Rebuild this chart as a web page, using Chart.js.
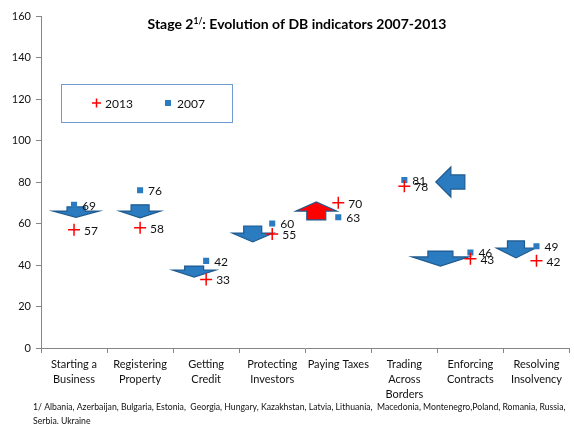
<html>

<head>
    <title>Stage 2 DB indicators</title>
    <script src="https://cdn.jsdelivr.net/npm/chart.js"></script>
    <style>
        body { margin: 0; overflow: hidden; background: #fff; }
    </style>
</head>

<body>
    <canvas id="myChart" width="577" height="424"></canvas>

    <script>
        // data
        const categories = [
            ['Starting a', 'Business'],
            ['Registering', 'Property'],
            ['Getting', 'Credit'],
            ['Protecting', 'Investors'],
            ['Paying Taxes'],
            ['Trading', 'Across', 'Borders'],
            ['Enforcing', 'Contracts'],
            ['Resolving', 'Insolvency']
        ];
        const values2013 = [57, 58, 33, 55, 70, 78, 43, 42];
        const values2007 = [69, 76, 42, 60, 63, 81, 46, 49];
        const yMin = 0, yMax = 160, yStep = 20;

        const FONT = 'Lato, "Open Sans", sans-serif';
        const BLUE = '#2b7bc0';
        const DARK = '#1f5a8e';

        // decorative arrows: dx in px from category centre, y parts in data units
        // dir: 'down' | 'up' | 'left'
        const arrows = [
            { cat: 0, dir: 'down', dx: 2, body: 9, head: 23, top: 68, base: 66, tip: 63, fill: BLUE },
            { cat: 1, dir: 'down', dx: 0, body: 9, head: 20.5, top: 69, base: 66, tip: 62.7, fill: BLUE },
            { cat: 2, dir: 'down', dx: -12, body: 9.5, head: 21.5, top: 39.5, base: 37.6, tip: 34.2, fill: BLUE },
            { cat: 3, dir: 'down', dx: -19.5, body: 9, head: 20.5, top: 58.8, base: 55.4, tip: 51.1, fill: BLUE },
            { cat: 4, dir: 'up', dx: -22, body: 9.5, head: 20.5, top: 61.7, base: 66, tip: 70.4, fill: '#ff0000' },
            { cat: 5, dir: 'left', tipX: 31.5, baseX: 46.5, endX: 60.5, mid: 80, body: 3.4, head: 7.2, fill: BLUE },
            { cat: 6, dir: 'down', dx: -30, body: 12.5, head: 28.5, top: 46.7, base: 43.9, tip: 39.5, fill: BLUE },
            { cat: 7, dir: 'down', dx: -20.5, body: 8.5, head: 19.5, top: 51.6, base: 48.2, tip: 43.4, fill: BLUE }
        ];

        const arrowPlugin = {
            id: 'arrows',
            beforeDatasetsDraw(chart) {
                const ctx = chart.ctx;
                const xs = chart.scales.x, ys = chart.scales.y;
                ctx.save();
                ctx.lineWidth = 1.2;
                ctx.strokeStyle = DARK;
                arrows.forEach(a => {
                    const cx = xs.getPixelForValue(a.cat);
                    ctx.beginPath();
                    if (a.dir === 'left') {
                        const m = ys.getPixelForValue(a.mid);
                        const bh = ys.getPixelForValue(a.mid - a.body) - m;
                        const hh = ys.getPixelForValue(a.mid - a.head) - m;
                        ctx.moveTo(cx + a.tipX, m);
                        ctx.lineTo(cx + a.baseX, m - hh);
                        ctx.lineTo(cx + a.baseX, m - bh);
                        ctx.lineTo(cx + a.endX, m - bh);
                        ctx.lineTo(cx + a.endX, m + bh);
                        ctx.lineTo(cx + a.baseX, m + bh);
                        ctx.lineTo(cx + a.baseX, m + hh);
                    } else {
                        const x = cx + a.dx;
                        const t = ys.getPixelForValue(a.top);
                        const b = ys.getPixelForValue(a.base);
                        const p = ys.getPixelForValue(a.tip);
                        ctx.moveTo(x - a.body, t);
                        ctx.lineTo(x + a.body, t);
                        ctx.lineTo(x + a.body, b);
                        ctx.lineTo(x + a.head, b);
                        ctx.lineTo(x, p);
                        ctx.lineTo(x - a.head, b);
                        ctx.lineTo(x - a.body, b);
                    }
                    ctx.closePath();
                    ctx.fillStyle = a.fill;
                    ctx.fill();
                    ctx.stroke();
                });
                ctx.restore();
            }
        };

        // value labels, title, legend box and footnote
        const extrasPlugin = {
            id: 'extras',
            afterDatasetsDraw(chart) {
                const ctx = chart.ctx;
                ctx.save();
                ctx.fillStyle = '#111';
                ctx.font = '12px ' + FONT;
                ctx.textBaseline = 'middle';
                ctx.textAlign = 'left';
                chart.data.datasets.forEach((ds, i) => {
                    const meta = chart.getDatasetMeta(i);
                    const off = i === 0 ? 10 : 8;
                    meta.data.forEach((pt, j) => {
                        ctx.fillText(String(ds.data[j]), pt.x + off, pt.y + 1);
                    });
                });
                ctx.restore();
            },
            afterDraw(chart) {
                const ctx = chart.ctx;
                ctx.save();
                // title
                const part1 = 'Stage 2', sup = '1/', part2 = ': Evolution of DB indicators 2007-2013';
                ctx.fillStyle = '#000';
                ctx.textBaseline = 'alphabetic';
                ctx.font = 'bold 14px ' + FONT;
                const w1 = ctx.measureText(part1).width;
                const w3 = ctx.measureText(part2).width;
                ctx.font = 'bold 8.5px ' + FONT;
                const w2 = ctx.measureText(sup).width;
                let x = 297 - (w1 + w2 + w3) / 2;
                ctx.font = 'bold 14px ' + FONT;
                ctx.fillText(part1, x, 29);
                ctx.font = 'bold 8.5px ' + FONT;
                ctx.fillText(sup, x + w1, 24);
                ctx.font = 'bold 14px ' + FONT;
                ctx.fillText(part2, x + w1 + w2, 29);

                // legend box
                ctx.strokeStyle = '#6f9bd0';
                ctx.lineWidth = 1;
                ctx.strokeRect(61.5, 84.5, 171, 38);
                ctx.strokeStyle = '#ff0000';
                ctx.lineWidth = 1.5;
                ctx.beginPath();
                ctx.moveTo(92, 103); ctx.lineTo(101, 103);
                ctx.moveTo(96.5, 98.5); ctx.lineTo(96.5, 107.5);
                ctx.stroke();
                ctx.fillStyle = BLUE;
                ctx.fillRect(165, 100, 6, 6);
                ctx.fillStyle = '#111';
                ctx.font = '12px ' + FONT;
                ctx.textBaseline = 'middle';
                ctx.fillText('2013', 105, 104);
                ctx.fillText('2007', 177, 104);

                // footnote
                ctx.font = '8.7px ' + FONT;
                ctx.fillStyle = '#111';
                ctx.fillText('1/ Albania, Azerbaijan, Bulgaria, Estonia,  Georgia, Hungary, Kazakhstan, Latvia, Lithuania,  Macedonia, Montenegro,Poland, Romania, Russia,', 33, 407, 533);
                ctx.fillText('Serbia, Ukraine', 33, 421);
                ctx.restore();
            }
        };

        const data = {
            labels: categories,
            datasets: [
                {
                    label: '2013',
                    data: values2013,
                    showLine: false,
                    pointStyle: 'cross',
                    pointRadius: 6,
                    pointBorderWidth: 1.5,
                    borderColor: '#ff0000',
                    backgroundColor: '#ff0000'
                },
                {
                    label: '2007',
                    data: values2007,
                    showLine: false,
                    pointStyle: 'rect',
                    pointRadius: 4.3,
                    pointBorderWidth: 0,
                    borderColor: BLUE,
                    backgroundColor: BLUE
                }
            ]
        };

        const config = {
            type: 'line',
            data: data,
            options: {
                responsive: false,
                animation: false,
                layout: { padding: { top: 16, left: 0, right: 0, bottom: 0 } },
                plugins: {
                    legend: { display: false },
                    title: { display: false },
                    tooltip: { enabled: false }
                },
                scales: {
                    x: {
                        offset: true,
                        afterFit: (scale) => { scale.height = 76; },
                        grid: {
                            offset: true,
                            drawOnChartArea: false,
                            drawTicks: true,
                            tickLength: 5,
                            color: '#868686'
                        },
                        border: { color: '#868686' },
                        ticks: {
                            maxRotation: 0,
                            autoSkip: false,
                            padding: 4,
                            color: '#111',
                            font: { family: FONT, size: 11, lineHeight: 1.36 }
                        }
                    },
                    y: {
                        min: yMin,
                        max: yMax,
                        afterFit: (scale) => { scale.width = 41; },
                        grid: {
                            drawOnChartArea: false,
                            drawTicks: true,
                            tickLength: 5,
                            color: '#868686'
                        },
                        border: { color: '#868686' },
                        ticks: {
                            stepSize: yStep,
                            padding: 5,
                            color: '#111',
                            font: { family: FONT, size: 11 }
                        }
                    }
                }
            },
            plugins: [arrowPlugin, extrasPlugin]
        };

        const myChart = new Chart(document.getElementById('myChart'), config);
    </script>
</body>

</html>
